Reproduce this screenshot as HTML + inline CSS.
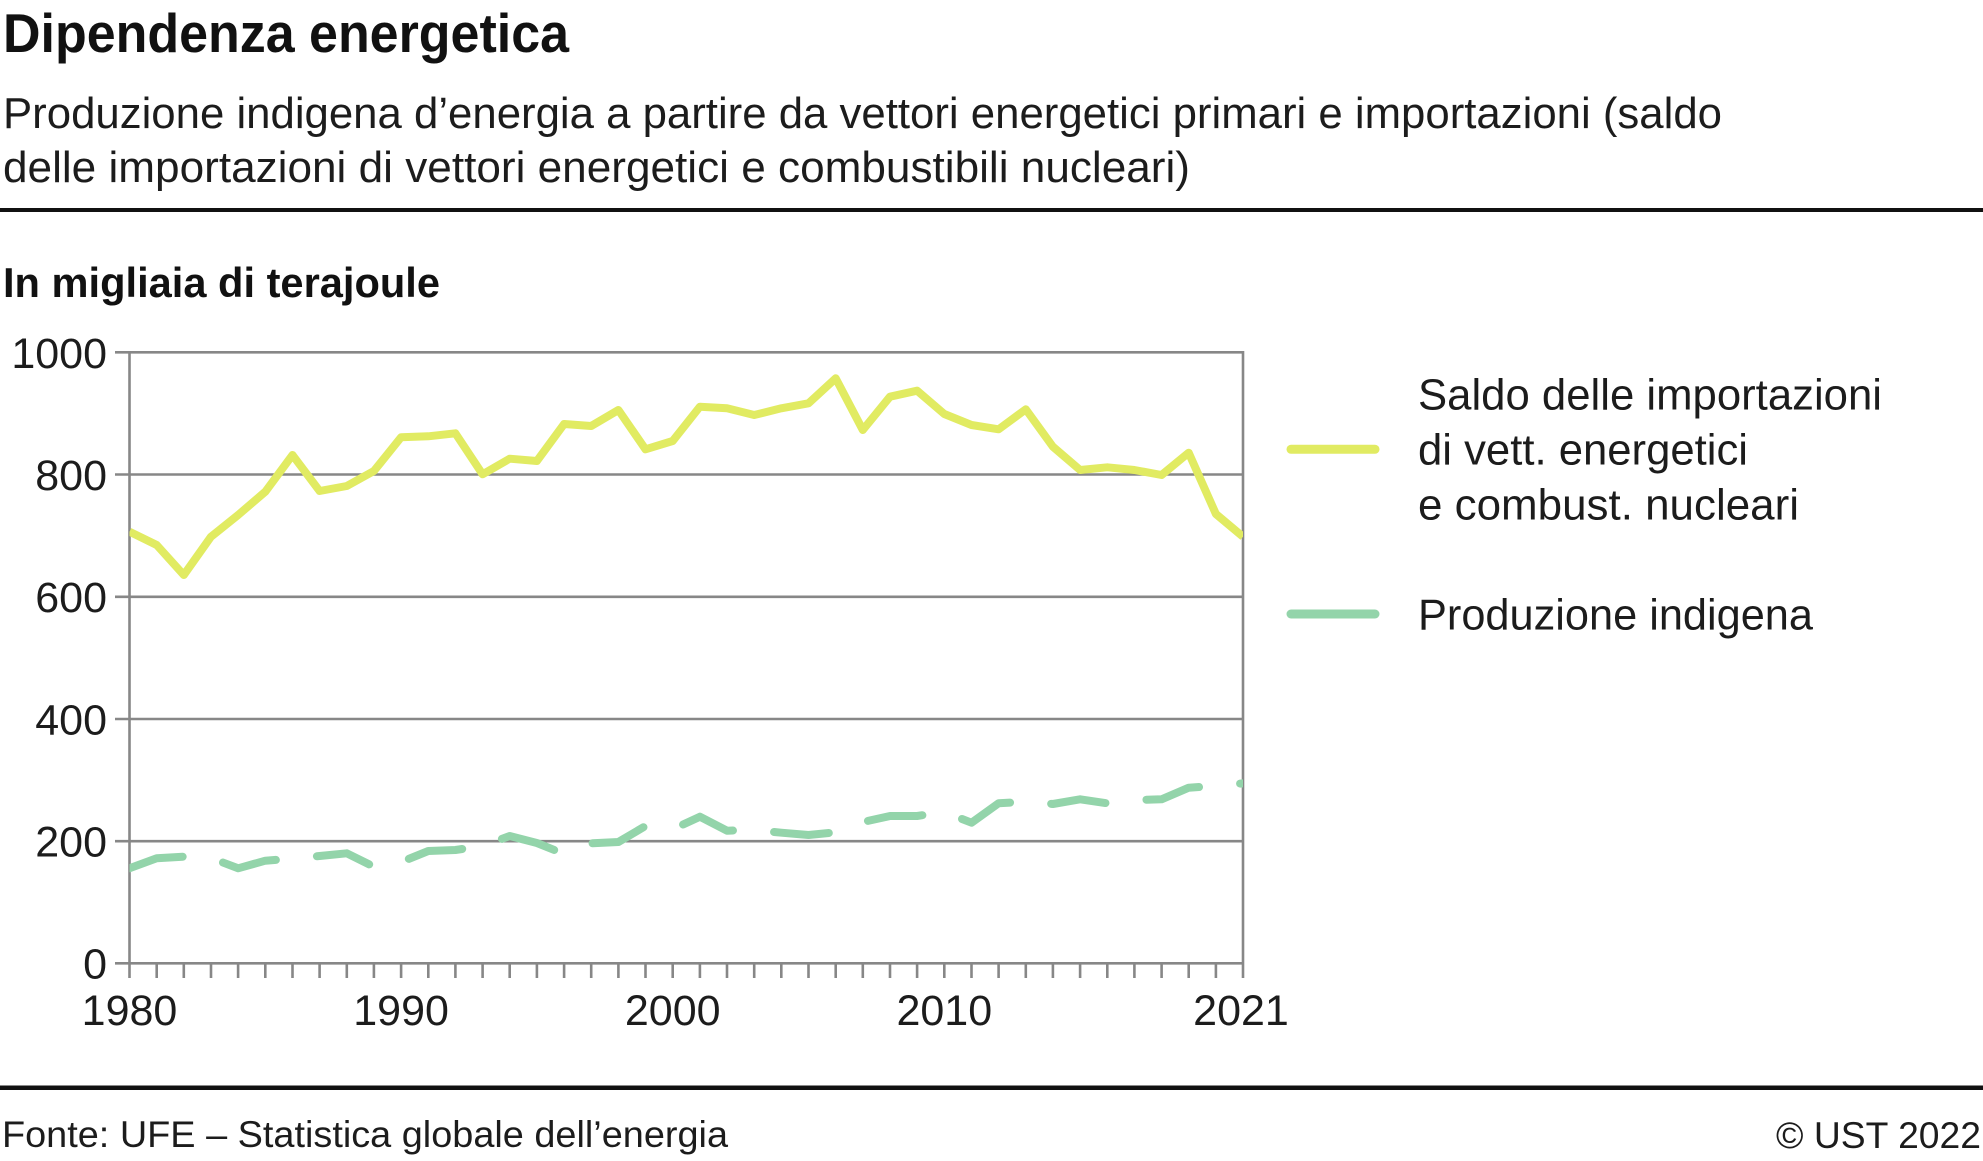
<!DOCTYPE html>
<html>
<head>
<meta charset="utf-8">
<style>
  html, body { margin: 0; padding: 0; background: #ffffff; }
  body { width: 1983px; height: 1161px; overflow: hidden; }
  svg { display: block; }
  text { font-family: "Liberation Sans", Arial, sans-serif; fill: #1c1c1c; }
  .b { fill: #111; }
</style>
</head>
<body>
<svg width="1983" height="1161" viewBox="0 0 1983 1161" xmlns="http://www.w3.org/2000/svg">
  <defs>
    <clipPath id="plot">
      <rect x="129.5" y="330" width="1113.5" height="650"/>
    </clipPath>
  </defs>

  <!-- Title -->
  <text class="b" x="3" y="52" font-size="55" font-weight="bold" textLength="566" lengthAdjust="spacingAndGlyphs">Dipendenza energetica</text>
  <!-- Subtitle -->
  <text x="3" y="128" font-size="44" textLength="1719" lengthAdjust="spacingAndGlyphs">Produzione indigena d’energia a partire da vettori energetici primari e importazioni (saldo</text>
  <text x="3" y="182" font-size="44" textLength="1187" lengthAdjust="spacingAndGlyphs">delle importazioni di vettori energetici e combustibili nucleari)</text>

  <!-- top separator -->
  <rect x="0" y="208" width="1983" height="4" fill="#111"/>

  <!-- unit label -->
  <text class="b" x="3" y="297" font-size="42" font-weight="bold" textLength="437" lengthAdjust="spacingAndGlyphs">In migliaia di terajoule</text>

  <!-- Gridlines + y ticks -->
  <g stroke="#878787" stroke-width="2.6" fill="none">
    <line x1="115" y1="352.3" x2="1243" y2="352.3"/>
    <line x1="115" y1="474.5" x2="1243" y2="474.5"/>
    <line x1="115" y1="596.8" x2="1243" y2="596.8"/>
    <line x1="115" y1="719" x2="1243" y2="719"/>
    <line x1="115" y1="841.2" x2="1243" y2="841.2"/>
    <line x1="115" y1="963.3" x2="1243" y2="963.3"/>
    <!-- axes -->
    <line x1="129.5" y1="351" x2="129.5" y2="978"/>
    <line x1="1243" y1="351" x2="1243" y2="978"/>
  </g>

  <!-- x ticks -->
  <g stroke="#878787" stroke-width="2.6">
    <line x1="156.7" y1="963" x2="156.7" y2="978"/>
    <line x1="183.8" y1="963" x2="183.8" y2="978"/>
    <line x1="211.0" y1="963" x2="211.0" y2="978"/>
    <line x1="238.1" y1="963" x2="238.1" y2="978"/>
    <line x1="265.3" y1="963" x2="265.3" y2="978"/>
    <line x1="292.5" y1="963" x2="292.5" y2="978"/>
    <line x1="319.6" y1="963" x2="319.6" y2="978"/>
    <line x1="346.8" y1="963" x2="346.8" y2="978"/>
    <line x1="373.9" y1="963" x2="373.9" y2="978"/>
    <line x1="401.1" y1="963" x2="401.1" y2="978"/>
    <line x1="428.3" y1="963" x2="428.3" y2="978"/>
    <line x1="455.4" y1="963" x2="455.4" y2="978"/>
    <line x1="482.6" y1="963" x2="482.6" y2="978"/>
    <line x1="509.7" y1="963" x2="509.7" y2="978"/>
    <line x1="536.9" y1="963" x2="536.9" y2="978"/>
    <line x1="564.1" y1="963" x2="564.1" y2="978"/>
    <line x1="591.2" y1="963" x2="591.2" y2="978"/>
    <line x1="618.4" y1="963" x2="618.4" y2="978"/>
    <line x1="645.5" y1="963" x2="645.5" y2="978"/>
    <line x1="672.7" y1="963" x2="672.7" y2="978"/>
    <line x1="699.9" y1="963" x2="699.9" y2="978"/>
    <line x1="727.0" y1="963" x2="727.0" y2="978"/>
    <line x1="754.2" y1="963" x2="754.2" y2="978"/>
    <line x1="781.3" y1="963" x2="781.3" y2="978"/>
    <line x1="808.5" y1="963" x2="808.5" y2="978"/>
    <line x1="835.7" y1="963" x2="835.7" y2="978"/>
    <line x1="862.8" y1="963" x2="862.8" y2="978"/>
    <line x1="890.0" y1="963" x2="890.0" y2="978"/>
    <line x1="917.1" y1="963" x2="917.1" y2="978"/>
    <line x1="944.3" y1="963" x2="944.3" y2="978"/>
    <line x1="971.5" y1="963" x2="971.5" y2="978"/>
    <line x1="998.6" y1="963" x2="998.6" y2="978"/>
    <line x1="1025.8" y1="963" x2="1025.8" y2="978"/>
    <line x1="1052.9" y1="963" x2="1052.9" y2="978"/>
    <line x1="1080.1" y1="963" x2="1080.1" y2="978"/>
    <line x1="1107.3" y1="963" x2="1107.3" y2="978"/>
    <line x1="1134.4" y1="963" x2="1134.4" y2="978"/>
    <line x1="1161.6" y1="963" x2="1161.6" y2="978"/>
    <line x1="1188.7" y1="963" x2="1188.7" y2="978"/>
    <line x1="1215.9" y1="963" x2="1215.9" y2="978"/>
  </g>

  <!-- y labels -->
  <g font-size="43" text-anchor="end">
    <text x="107" y="368">1000</text>
    <text x="107" y="490">800</text>
    <text x="107" y="612">600</text>
    <text x="107" y="734.5">400</text>
    <text x="107" y="856.5">200</text>
    <text x="107" y="978.5">0</text>
  </g>

  <!-- x labels -->
  <g font-size="43" text-anchor="middle">
    <text x="129.5" y="1025">1980</text>
    <text x="401.1" y="1025">1990</text>
    <text x="672.7" y="1025">2000</text>
    <text x="944.3" y="1025">2010</text>
    <text x="1241" y="1025">2021</text>
  </g>

  <!-- Series -->
  <g clip-path="url(#plot)" fill="none" stroke-linejoin="round">
    <polyline stroke="#e1eb62" stroke-width="8" points="
      129.5,531.7 156.7,545 183.8,575 211.0,536.7 238.1,515 265.3,491.7 292.5,455 319.6,491 346.8,486 373.9,471
      401.1,437.3 428.3,436.3 455.4,433.3 482.6,474.3 509.7,458.7 536.9,461 564.1,424 591.2,426 618.4,410 645.5,449.3
      672.7,441 699.9,406.7 727.0,408.3 754.2,415 781.3,408.3 808.5,403.3 835.7,378.3 862.8,430 890.0,396.7 917.1,390.7
      944.3,414 971.5,425 998.6,429.3 1025.8,409.3 1052.9,446.7 1080.1,470 1107.3,467.3 1134.4,470 1161.6,475 1188.7,452.7
      1215.9,514 1243.0,536.7"/>
    <polyline stroke="#93d4aa" stroke-width="8" stroke-linecap="round" stroke-dasharray="55 41.2" stroke-dashoffset="0" points="
      129.5,868.3 156.7,858.3 183.8,856.7 211.0,858 238.1,868.3 265.3,860.7 292.5,858.7 319.6,856 346.8,853.3 373.9,866.7
      401.1,862 428.3,851 455.4,850 482.6,846 509.7,836 536.9,843 564.1,854 591.2,843.3 618.4,842 645.5,826
      672.7,829.3 699.9,816.7 727.0,830.7 754.2,830 781.3,832.7 808.5,835 835.7,832.3 862.8,822 890.0,816 917.1,816
      944.3,812 971.5,822.7 998.6,803.3 1025.8,801.7 1052.9,804 1080.1,799.3 1107.3,803.3 1134.4,800 1161.6,799.3 1188.7,787.7
      1215.9,786 1243.0,783.3"/>
  </g>

  <!-- Legend -->
  <line x1="1291" y1="449.3" x2="1375" y2="449.3" stroke="#e1eb62" stroke-width="9" stroke-linecap="round"/>
  <line x1="1291" y1="614" x2="1375" y2="614" stroke="#93d4aa" stroke-width="9" stroke-linecap="round"/>
  <g font-size="44">
    <text x="1418" y="409.3" textLength="464" lengthAdjust="spacingAndGlyphs">Saldo delle importazioni</text>
    <text x="1418" y="464.3" textLength="330" lengthAdjust="spacingAndGlyphs">di vett. energetici</text>
    <text x="1418" y="519.3" textLength="381" lengthAdjust="spacingAndGlyphs">e combust. nucleari</text>
    <text x="1418" y="629.3" textLength="395" lengthAdjust="spacingAndGlyphs">Produzione indigena</text>
  </g>

  <!-- bottom separator -->
  <rect x="0" y="1085.5" width="1983" height="4.5" fill="#111"/>

  <!-- Footer -->
  <text x="2" y="1147" font-size="37" textLength="726" lengthAdjust="spacingAndGlyphs">Fonte: UFE – Statistica globale dell’energia</text>
  <text x="1776" y="1148" font-size="37" textLength="205" lengthAdjust="spacingAndGlyphs">© UST 2022</text>
</svg>
</body>
</html>
